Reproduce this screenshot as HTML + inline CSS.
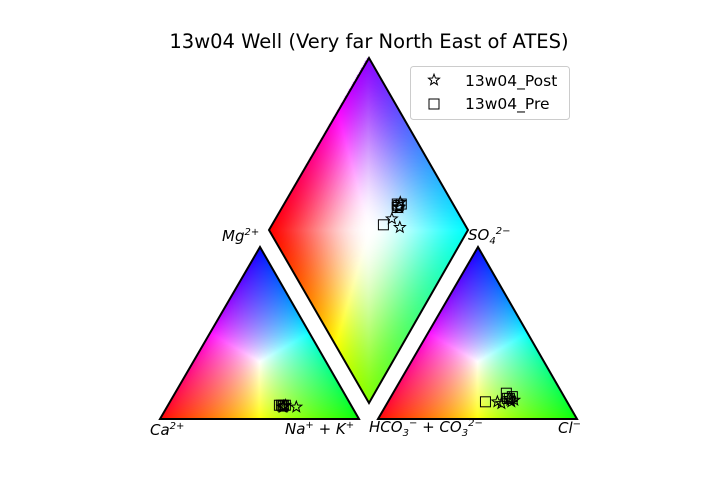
<!DOCTYPE html>
<html><head><meta charset="utf-8"><style>
body{margin:0;background:#fff;}
#wrap{position:relative;width:720px;height:480px;overflow:hidden;font-family:"DejaVu Sans","Liberation Sans",sans-serif;}
canvas,svg{position:absolute;left:0;top:0;}
.lbl{position:absolute;font-style:italic;font-size:15px;color:#000;white-space:nowrap;}
.lbl sup,.lbl sub{font-size:10px;}
</style></head><body>
<div id="wrap">
<canvas id="cv" width="720" height="480"></canvas>
<svg id="sv" width="720" height="480"></svg>
<div class="lbl" style="left:222px;top:227px">Mg<sup>2+</sup></div>
<div class="lbl" style="left:468px;top:226px">SO<sub>4</sub><sup>2−</sup></div>
<div class="lbl" style="left:150px;top:421px">Ca<sup>2+</sup></div>
<div class="lbl" style="left:285px;top:420px">Na<sup>+</sup> + K<sup>+</sup></div>
<div class="lbl" style="left:369px;top:418px">HCO<sub>3</sub><sup>−</sup> + CO<sub>3</sub><sup>2−</sup></div>
<div class="lbl" style="left:558px;top:419px">Cl<sup>−</sup></div>
</div>
<script>
// data (fractions)
const preCa=[0.34,0.35,0.36,0.33,0.345];
const preMg=[0.08,0.08,0.08,0.08,0.075];
const preCl=[0.57,0.60,0.49,0.61,0.59];
const preSO4=[0.15,0.12,0.10,0.13,0.12];
const postCa=[0.28,0.34,0.345,0.33,0.35,0.34];
const postMg=[0.07,0.075,0.07,0.08,0.07,0.075];
const postCl=[0.575,0.61,0.62,0.60,0.63,0.55];
const postSO4=[0.09,0.11,0.10,0.12,0.11,0.10];

const L={x0:160,x1:359,y:419,h:172}, R={x0:378,x1:577,y:419,h:172};
const D={bx:369,by:403,ax:99,ay:-173,cx:-100,cy:-173};
function leftPos(ca,mg){const n=1-ca-mg;return [L.x0+(L.x1-L.x0)*(n+mg/2),L.y-L.h*mg];}
function rightPos(cl,so4){return [R.x0+(R.x1-R.x0)*(cl+so4/2),R.y-R.h*so4];}
function diaPos(ca,mg,cl,so4){const a=cl+so4,b=ca+mg;return [D.bx+a*D.ax+b*D.cx,D.by+a*D.ay+b*D.cy];}

// color fields
const cv=document.getElementById('cv'),ctx=cv.getContext('2d');
const img=ctx.createImageData(720,480),px=img.data;
function setp(x,y,c){const i=(y*720+x)*4;px[i]=c[0]*255;px[i+1]=c[1]*255;px[i+2]=c[2]*255;px[i+3]=255;}
function tri(P){
  const [A,B,C]=P;
  const det=(B[1]-C[1])*(A[0]-C[0])+(C[0]-B[0])*(A[1]-C[1]);
  for(let y=240;y<420;y++)for(let x=150;x<590;x++){
    const l1=((B[1]-C[1])*(x+.5-C[0])+(C[0]-B[0])*(y+.5-C[1]))/det;
    const l2=((C[1]-A[1])*(x+.5-C[0])+(A[0]-C[0])*(y+.5-C[1]))/det;
    const l3=1-l1-l2;
    if(l1<0||l2<0||l3<0)continue;
    const m=Math.max(l1,l2,l3);
    setp(x,y,[l1/m,l2/m,l3/m].map(v=>Math.pow(v,0.7)));
  }
}
tri([[160,419],[359,419],[260,247]]);
tri([[378,419],[577,419],[478,247]]);
// diamond
const cL=[1,0,0],cT=[0.55,0,1],cRt=[0,1,1],cB=[0.5,1,0];
for(let y=55;y<405;y++)for(let x=265;x<472;x++){
  const dx=x+.5-D.bx,dy=y+.5-D.by;
  const det=D.ax*D.cy-D.cx*D.ay;
  const a=(dx*D.cy-D.cx*dy)/det,b=(D.ax*dy-dx*D.ay)/det;
  if(a<0||b<0||a>1||b>1)continue;
  const c=[0,1,2].map(k=>(1-a)*(1-b)*cB[k]+a*(1-b)*cRt[k]+(1-a)*b*cL[k]+a*b*cT[k]);
  const m=Math.max(...c);const d=Math.max(Math.abs(a-.5),Math.abs(b-.5))*2;
  const t=Math.pow(1-d,1.6);
  setp(x,y,c.map(v=>{v/=m;return v+(1-v)*t;}));
}
ctx.putImageData(img,0,0);

// svg
const NS='http://www.w3.org/2000/svg',sv=document.getElementById('sv');
function el(t,a,p){const e=document.createElementNS(NS,t);for(const k in a)e.setAttribute(k,a[k]);(p||sv).appendChild(e);return e;}
let e;
e=el('polygon',{points:'160,419 359,419 260,247',fill:'none',stroke:'#000','stroke-width':2});

e=el('polygon',{points:'378,419 577,419 478,247',fill:'none',stroke:'#000','stroke-width':2});

e=el('polygon',{points:'369,58 468,230 369,403 269,230',fill:'none',stroke:'#000','stroke-width':2});

e=el('text',{x:369,y:48,'text-anchor':'middle','font-size':19.5,'font-family':'DejaVu Sans, Liberation Sans, sans-serif'});
e.textContent='13w04 Well (Very far North East of ATES)';


function star(x,y,r){let s='';for(let i=0;i<10;i++){const ang=-Math.PI/2+i*Math.PI/5,rr=i%2?r*0.42:r;s+=(x+rr*Math.cos(ang)).toFixed(1)+','+(y+rr*Math.sin(ang)).toFixed(1)+' ';}return s;}
function drawStar(p,name){const m=el('polygon',{points:star(p[0],p[1],5.8),fill:'none',stroke:'#000','stroke-width':1});
}
function drawSq(p,name){const m=el('rect',{x:p[0]-5,y:p[1]-5,width:10,height:10,fill:'none',stroke:'#000','stroke-width':1});
}
for(let i=0;i<postCa.length;i++){
  drawStar(leftPos(postCa[i],postMg[i]),'post-cation-point');
  drawStar(rightPos(postCl[i],postSO4[i]),'post-anion-point');
  drawStar(diaPos(postCa[i],postMg[i],postCl[i],postSO4[i]),'post-diamond-point');
}
for(let i=0;i<preCa.length;i++){
  drawSq(leftPos(preCa[i],preMg[i]),'pre-cation-point');
  drawSq(rightPos(preCl[i],preSO4[i]),'pre-anion-point');
  drawSq(diaPos(preCa[i],preMg[i],preCl[i],preSO4[i]),'pre-diamond-point');
}
// legend
const g=el('g',{});
el('rect',{x:410.5,y:66.5,width:159,height:53,rx:3,fill:'#fff','fill-opacity':0.8,stroke:'#ccc'},g);
let s=el('polygon',{points:star(434,80,5.8),fill:'none',stroke:'#000'},g);

s=el('rect',{x:429,y:99,width:10,height:10,fill:'none',stroke:'#000'},g);

s=el('text',{x:465,y:86,'font-size':15.5,'font-family':'DejaVu Sans, Liberation Sans, sans-serif'},g);s.textContent='13w04_Post';

s=el('text',{x:465,y:109,'font-size':15.5,'font-family':'DejaVu Sans, Liberation Sans, sans-serif'},g);s.textContent='13w04_Pre';

</script>
</body></html>
